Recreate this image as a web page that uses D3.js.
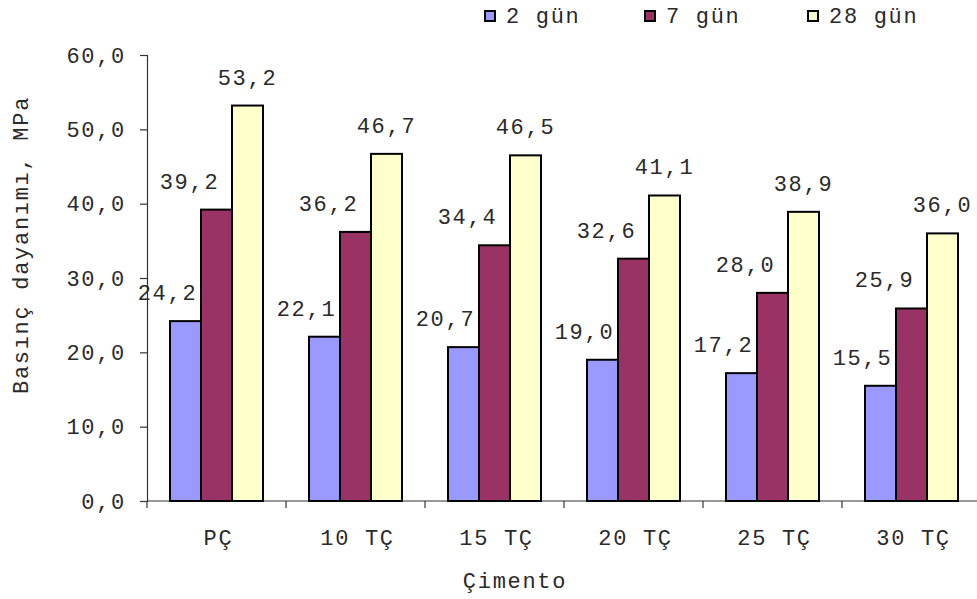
<!DOCTYPE html>
<html>
<head>
<meta charset="utf-8">
<script src="https://cdn.jsdelivr.net/npm/d3@7"></script>
<style>
  html, body { margin: 0; padding: 0; background: #fff; }
  svg text { font-family: "Liberation Mono", "Courier New", monospace; fill: #2a2a2a; }
</style>
</head>
<body>
<svg id="chart" width="977" height="599"></svg>
<script>
// Compressive strength by cement type and curing age
const categories = ["PÇ", "10 TÇ", "15 TÇ", "20 TÇ", "25 TÇ", "30 TÇ"];
const seriesNames = ["2 gün", "7 gün", "28 gün"];
const day2  = [24.2, 22.1, 20.7, 19.0, 17.2, 15.5];
const day7  = [39.2, 36.2, 34.4, 32.6, 28.0, 25.9];
const day28 = [53.2, 46.7, 46.5, 41.1, 38.9, 36.0];
const yTicks = [0, 10, 20, 30, 40, 50, 60];

const colors = ["#9999FF", "#993366", "#FFFFCC"];
const labelShift = [-18, -27, 0];
const seriesValues = [day2, day7, day28];

const svg = d3.select("#chart");
const fontSize = 22, spacing = 1.7;
const fmt = v => v.toFixed(1).replace(".", ",");

const plotLeft = 147, plotTop = 55, plotBottom = 501;
const catStep = 139;

const x0 = d3.scaleBand().domain(categories)
  .range([plotLeft, plotLeft + catStep * categories.length]).padding(0);
const x1 = d3.scaleBand().domain(seriesNames)
  .range([0, catStep]).paddingInner(0).paddingOuter(0.742);
const y = d3.scaleLinear().domain([0, 60]).range([plotBottom, plotTop]);

// Y axis
const yAxis = d3.axisLeft(y).tickValues(yTicks).tickSize(7).tickPadding(14)
  .tickFormat(fmt);
const gy = svg.append("g").attr("transform", `translate(${plotLeft},0)`).call(yAxis);
gy.select(".domain").attr("stroke", "#333").attr("stroke-width", 1.2);
gy.selectAll(".tick line").attr("stroke", "#333").attr("stroke-width", 1.2);
gy.selectAll("text").attr("font-size", fontSize).attr("letter-spacing", spacing)
  .attr("fill", "#2a2a2a").attr("font-family", "Liberation Mono, Courier New, monospace");

// X axis: ticks at category boundaries
const gx = svg.append("g").attr("transform", `translate(0,${plotBottom})`);
gx.append("line").attr("x1", plotLeft).attr("x2", plotLeft + catStep * categories.length)
  .attr("stroke", "#333").attr("stroke-width", 1.2);
categories.forEach((c) => {
  const bx = x0(c);
  gx.append("line").attr("x1", bx).attr("x2", bx).attr("y1", 0).attr("y2", 7)
    .attr("stroke", "#333").attr("stroke-width", 1.2);
  gx.append("text").attr("x", bx + x0.bandwidth() / 2 + 2).attr("y", 44)
    .attr("text-anchor", "middle").attr("font-size", fontSize)
    .attr("letter-spacing", spacing).text(c);
});

// Bars and value labels
seriesNames.forEach((s, si) => {
  const rows = categories.map((c, i) => ({ c, v: seriesValues[si][i] }));
  const g = svg.append("g");
  g.selectAll("rect").data(rows).join("rect")
    .attr("x", d => x0(d.c) + x1(s))
    .attr("y", d => y(d.v))
    .attr("width", x1.bandwidth())
    .attr("height", d => plotBottom - y(d.v))
    .attr("fill", colors[si])
    .attr("stroke", "#000").attr("stroke-width", 2);
  g.selectAll("text").data(rows).join("text")
    .attr("x", d => x0(d.c) + x1(s) + x1.bandwidth() / 2 + labelShift[si])
    .attr("y", d => y(d.v) - 21)
    .attr("text-anchor", "middle")
    .attr("font-size", fontSize).attr("letter-spacing", spacing)
    .text(d => fmt(d.v));
});

// Legend
const legendX = [485, 645, 808];
seriesNames.forEach((s, si) => {
  svg.append("rect").attr("x", legendX[si]).attr("y", 11).attr("width", 10).attr("height", 10)
    .attr("fill", colors[si]).attr("stroke", "#000").attr("stroke-width", 2);
  svg.append("text").attr("x", legendX[si] + 21).attr("y", 23)
    .attr("font-size", fontSize).attr("letter-spacing", spacing).text(s);
});

// Axis titles
svg.append("text").attr("transform", "translate(28,245) rotate(-90)")
  .attr("text-anchor", "middle").attr("font-size", fontSize).attr("letter-spacing", spacing)
  .text("Basınç dayanımı, MPa");
svg.append("text").attr("x", 515).attr("y", 588)
  .attr("text-anchor", "middle").attr("font-size", fontSize).attr("letter-spacing", spacing)
  .text("Çimento");
</script>
</body>
</html>
